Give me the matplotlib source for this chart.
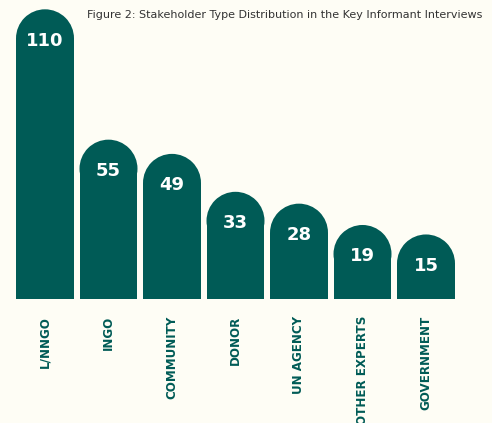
import matplotlib
matplotlib.use("Agg")
import matplotlib.pyplot as plt
from matplotlib.patches import Ellipse

# dati
categories = ["L/NNGO", "INGO", "COMMUNITY", "DONOR", "UN AGENCY", "OTHER EXPERTS", "GOVERNMENT"]
counts = [110, 55, 49, 33, 28, 19, 15]

title = "Figure 2: Stakeholder Type Distribution in the Key Informant Interviews"

teal = "#005B56"
bg = "#FEFDF5"

W, H = 492, 423
fig = plt.figure(figsize=(W / 100, H / 100), dpi=100, facecolor=bg)

# assi in pixel: sinistra 13, base delle barre a y=299 dall'alto
ax_left, ax_w = 13.25, 444.5
ax_bottom, ax_h = H - 299, 299
ax = fig.add_axes([ax_left / W, ax_bottom / H, ax_w / W, ax_h / H])
ax.set_facecolor(bg)

px_per_unit = 2.37
ax.set_xlim(-0.5, len(categories) - 0.5)
ax.set_ylim(0, ax_h / px_per_unit)

x = list(range(len(categories)))
bar_w = 0.913
ax.bar(x, counts, width=bar_w, color=teal, linewidth=0)

# cappuccio semicircolare sopra ogni barra
x_px = ax_w / len(categories)
cap_h = bar_w * x_px / px_per_unit
for xi, v in zip(x, counts):
    ax.add_patch(Ellipse((xi, v), bar_w, cap_h, color=teal, linewidth=0))
    ax.text(xi, v - 1, str(v), ha="center", va="center", color="white",
            fontsize=13, fontweight="bold", family="DejaVu Sans")

ax.set_xticks(x)
ax.set_xticklabels(categories, rotation=90, fontsize=8.6, fontweight="bold",
                   color=teal, va="top", ha="center")
ax.tick_params(axis="x", length=0, pad=12)
ax.set_yticks([])
for s in ax.spines.values():
    s.set_visible(False)

fig.text(87 / W, 1 - 15 / H, title, fontsize=8, color="#333333", ha="left", va="center")

fig.savefig("out.png", dpi=100, facecolor=bg)
